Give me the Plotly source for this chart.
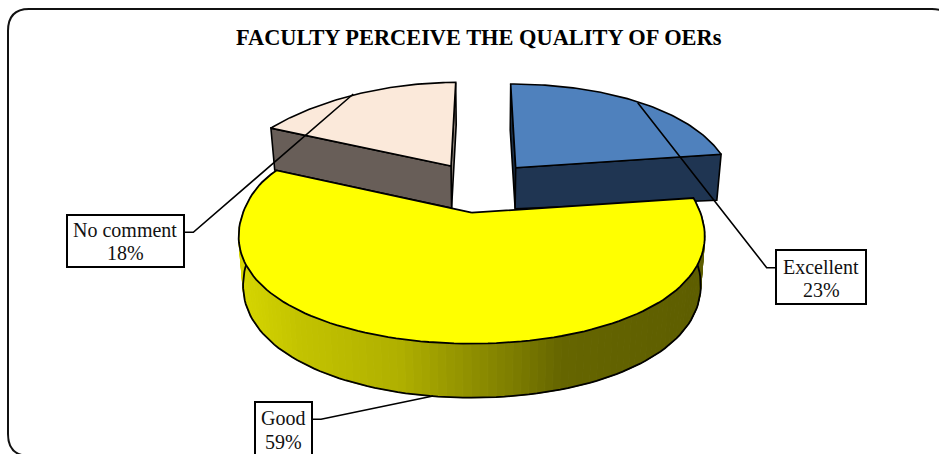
import numpy as np
import plotly.graph_objects as go

# Data
categories = ["Excellent", "Good", "No comment"]
values = [23, 59, 18]
title_text = "FACULTY PERCEIVE THE QUALITY OF OERs"

# Style / geometry of the hand-built 3D exploded pie (Plotly has no 3D pie)
W, H = 939, 454
SERIF = "Liberation Serif"
VANISH_X, DEPTH_SHRINK, PERSP = 484.0, 0.018, 0.2
slices = {
    "Excellent": dict(cx=515.7, cy=167.7, rx=213, a=110.6, b=-26.9, c=0, q=0, shear=-5.0, d0=41, dr=5, dv=0,
                      top="#4f81bd", cut="#1f3552", strip="#1c3048"),
    "Good": dict(cx=471.7, cy=212.7, rx=228.7, a=125, b=-60, c=-6, q=0.15, shear=0, d0=48, dr=0, dv=6,
                 top="#ffff00", cut="#666600", strip="#666600"),
    "No comment": dict(cx=451.0, cy=166.0, rx=220, a=93, b=-9.4, c=0, q=0, shear=4.7, d0=42, dr=0, dv=0,
                       top="#fbe9da", cut="#685e58", strip="#8d8279"),
}
grad_x = [244, 300, 400, 450, 520, 560, 700]
grad_v = [214, 196, 176, 153, 122, 102, 94]


def project(p, theta, r=1.0):
    """Pie polar position (theta clockwise from top, radians) to screen position."""
    u, v = r * np.sin(theta), r * np.cos(theta)
    dy = np.where(v >= 0, p["a"] * v + p["b"] * v ** 2, p["a"] * v + p["c"] * v ** 2)
    bend = np.where(v >= 0, p["q"] * v ** 2, 0.0)
    x = p["cx"] + p["rx"] * u * (1 - PERSP * v + bend) + p["shear"] * v
    y = p["cy"] - dy
    return x, y


def lower(p, x, y, theta, r=1.0):
    v = r * np.cos(theta)
    d = p["d0"] + p["dr"] * r - p["dv"] * v
    return x + (VANISH_X - x) * DEPTH_SHRINK, y + d


total = sum(values)
edges = np.concatenate([[0], np.cumsum(values)]) / total * 2 * np.pi
spans = {c: (edges[i], edges[i + 1]) for i, c in enumerate(categories)}

fig = go.Figure()


def poly(xs, ys, fill, line="black", width=1.6):
    fig.add_trace(go.Scatter(x=list(xs), y=list(ys), mode="lines", fill="toself", fillcolor=fill,
                             line=dict(color=line, width=width), hoverinfo="skip", showlegend=False))


def flat(theta, p):
    x, y = project(p, np.array([theta]))
    cx, cy = p["cx"], p["cy"]
    lx, ly = lower(p, x, y, np.array([theta]))
    cxl, cyl = lower(p, np.array([cx]), np.array([cy]), np.array([theta]), 0.0)
    return [cx, x[0], lx[0], cxl[0], cx], [cy, y[0], ly[0], cyl[0], cy]


# Exploded back slices: cut faces, then top faces
for cat, th_strip, th_cut in [("Excellent", spans["Excellent"][0], spans["Excellent"][1]),
                              ("No comment", spans["No comment"][1], spans["No comment"][0])]:
    p = slices[cat]
    xs, ys = flat(th_strip, p)
    poly(xs, ys, p["strip"])
    xs, ys = flat(th_cut, p)
    poly(xs, ys, p["cut"])
    t = np.linspace(*spans[cat], 80)
    x, y = project(p, t)
    poly([p["cx"], *x, p["cx"]], [p["cy"], *y, p["cy"]], p["top"])

# Front slice: outer wall with a stepped gradient, then the top face
p = slices["Good"]
t = np.linspace(*spans["Good"], 121)
x, y = project(p, t)
lx, ly = lower(p, x, y, t)
for i in range(len(t) - 1):
    g = int(np.interp((lx[i] + lx[i + 1]) / 2, grad_x, grad_v))
    col = f"rgb({g},{g},0)"
    poly([x[i], x[i + 1], lx[i + 1], lx[i], x[i]], [y[i], y[i + 1], ly[i + 1], ly[i], y[i]], col, line=col, width=1)
fig.add_trace(go.Scatter(x=lx, y=ly, mode="lines", line=dict(color="black", width=1.8),
                         hoverinfo="skip", showlegend=False))
poly([p["cx"], *x, p["cx"]], [p["cy"], *y, p["cy"]], p["top"], width=1.8)

# Leader lines from each slice's rim to its label box
boxes = {
    "Excellent": (776, 250, 866, 304, 821, 267, 290),
    "Good": (255, 402, 312, 460, 283, 418, 442),
    "No comment": (67, 215, 184, 267, 125, 230, 253),
}
leaders = {
    "Excellent": ([637.7, 766.7, 776], [102.7, 267.7, 267.7]),
    "Good": ([433, 321, 312], [396, 419.3, 419.3]),
    "No comment": ([353.3, 193.3, 184], [94, 232.3, 232.3]),
}
for cat in categories:
    lxs, lys = leaders[cat]
    fig.add_trace(go.Scatter(x=lxs, y=lys, mode="lines", line=dict(color="black", width=1.6),
                             hoverinfo="skip", showlegend=False))

shapes = [dict(type="path", layer="above", line=dict(color="#111111", width=2),
               path="M 29,9 L 932,9 Q 954,9 954,31 L 954,434 Q 954,456 932,456 "
                    "L 30,456 Q 8,456 8,434 L 8,31 Q 8,9 29,9 Z")]
annotations = [dict(x=479, y=37, text=f"<b>{title_text}</b>", showarrow=False, xanchor="center", yanchor="middle",
                    font=dict(family=SERIF, size=22.4, color="black"))]
for cat, val in zip(categories, values):
    x0, y0, x1, y1, tx, ty1, ty2 = boxes[cat]
    shapes.append(dict(type="rect", layer="above", x0=x0, y0=y0, x1=x1, y1=y1,
                       fillcolor="white", line=dict(color="black", width=2)))
    for ty, s in ((ty1, cat), (ty2, f"{val}%")):
        annotations.append(dict(x=tx, y=ty, text=s, showarrow=False, xanchor="center", yanchor="middle",
                                font=dict(family=SERIF, size=20, color="#111111")))

fig.update_layout(
    width=W, height=H, autosize=False, margin=dict(l=0, r=0, t=0, b=0),
    paper_bgcolor="white", plot_bgcolor="white", showlegend=False,
    xaxis=dict(range=[0, W], visible=False, fixedrange=True),
    yaxis=dict(range=[H, 0], visible=False, fixedrange=True),
    shapes=shapes, annotations=annotations,
)
fig.write_html("out.html", config=dict(displayModeBar=False),
               post_script="document.body.style.margin='0';document.documentElement.style.overflow='hidden';")
